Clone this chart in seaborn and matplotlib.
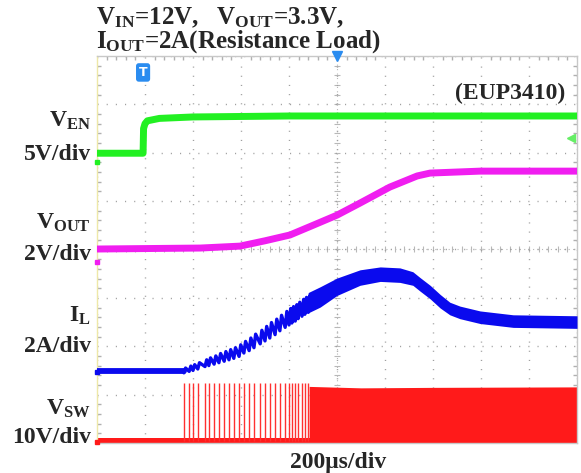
import numpy as np
import pandas as pd
import matplotlib
matplotlib.use("Agg")
import matplotlib.pyplot as plt
import seaborn as sns

# ---- data: x in time divisions (200 us/div), y in screen divisions ----
ven_t = [0.0, 0.96, 0.97, 1.00, 1.05, 1.30, 2.00, 4.00, 10.0]
ven_v = [5.99, 5.99, 6.50, 6.60, 6.66, 6.71, 6.74, 6.76, 6.76]

vout_t = [0.0, 2.15, 2.98, 3.50, 4.02, 4.50, 5.00, 5.48, 6.10, 6.67, 6.94, 7.98, 10.0]
vout_v = [4.01, 4.03, 4.07, 4.18, 4.30, 4.50, 4.71, 4.96, 5.29, 5.52, 5.58, 5.62, 5.62]

il_base_t = [0.0, 1.81]
il_base_v = [1.48, 1.48]

# switching pulse instants (also the IL ripple teeth)
sw_t = [1.81, 1.92, 2.00, 2.10, 2.25, 2.33, 2.44, 2.54, 2.65, 2.75, 2.85, 2.96,
        3.06, 3.17, 3.27, 3.40, 3.50, 3.60, 3.71, 3.81, 3.92, 4.00, 4.06, 4.13,
        4.19, 4.27, 4.33, 4.40]
il_valley = [1.45, 1.48, 1.50, 1.53, 1.58, 1.60, 1.63, 1.66, 1.69, 1.72, 1.75, 1.79,
             1.86, 1.91, 1.97, 2.05, 2.11, 2.17, 2.24, 2.32, 2.39, 2.44, 2.48, 2.52,
             2.57, 2.62, 2.66, 2.70]
il_peak = [1.55, 1.59, 1.62, 1.66, 1.72, 1.76, 1.80, 1.85, 1.89, 1.93, 1.97, 2.03,
           2.10, 2.17, 2.25, 2.33, 2.41, 2.49, 2.56, 2.64, 2.72, 2.78, 2.82, 2.86,
           2.91, 2.97, 3.01, 3.05]

il_band_t = [4.40, 4.65, 5.00, 5.48, 5.90, 6.31, 6.58, 6.73, 6.94, 7.15, 7.35, 7.56, 7.98, 8.67, 10.0]
il_band_c = [2.90, 3.02, 3.23, 3.42, 3.49, 3.47, 3.40, 3.28, 3.12, 2.93, 2.78, 2.70, 2.60, 2.52, 2.50]
il_band_hw = [0.21, 0.21, 0.18, 0.16, 0.15, 0.15, 0.14, 0.14, 0.14, 0.14, 0.13, 0.13, 0.13, 0.13, 0.13]

sw_base_t = [0.0, 10.0]
sw_base_v = [0.06, 0.06]
sw_pulse_top = 1.23
sw_dense_t = [4.42, 5.50, 7.00, 10.0]
sw_dense_top = [1.17, 1.14, 1.15, 1.16]

# ---- style ----
sns.set_theme(style="white")
plt.rcParams["font.family"] = ["Liberation Serif", "DejaVu Serif"]
plt.rcParams["font.weight"] = "bold"
plt.rcParams["mathtext.fontset"] = "custom"
plt.rcParams["mathtext.rm"] = "Liberation Serif:bold"
plt.rcParams["mathtext.bf"] = "Liberation Serif:bold"
plt.rcParams["mathtext.it"] = "Liberation Serif:bold"

W, H = 581, 473
fig = plt.figure(figsize=(W / 100, H / 100), dpi=100)
L, R, T, B = 97, 577, 56, 443
ax = fig.add_axes([L / W, 1 - B / H, (R - L) / W, (B - T) / H])
ax.set_xlim(0, 10)
ax.set_ylim(0, 8)

GREEN = "#22f022"
MAG = "#f01ef0"
BLUE = "#0a0aee"
RED = "#ff1a1a"

# grid
ax.set_xticks(range(11))
ax.set_yticks(range(9))
ax.set_xticklabels([])
ax.set_yticklabels([])
ax.grid(True, color="#a0a0a0", linewidth=1.0, linestyle=(0, (0.8, 5.8)))
ax.set_xticks(np.arange(0, 10.01, 0.2), minor=True)
ax.set_yticks(np.arange(0, 8.01, 0.2), minor=True)
ax.tick_params(which="both", direction="in", length=0)
ax.tick_params(which="minor", length=3, color="#b0b0b0", top=True, right=True, bottom=True, left=True)
for s in ax.spines.values():
    s.set_color("#c8c8c8")
    s.set_linewidth(1.0)
ax.spines["left"].set_color("#eee8a8")
# center crosshair with small ticks
ax.axhline(4, color="#b8b8b8", lw=0.8, ls=(0, (1, 3)), zorder=0.5)
ax.axvline(5, color="#b8b8b8", lw=0.8, ls=(0, (1, 3)), zorder=0.5)
ax.plot(np.arange(0, 10.01, 0.2), np.full(51, 4.0), ls="none", marker="|", ms=4, color="#b8b8b8", mew=0.8, zorder=0.5)
ax.plot(np.full(41, 5.0), np.arange(0, 8.01, 0.2), ls="none", marker="_", ms=4, color="#b8b8b8", mew=0.8, zorder=0.5)

# ---- VSW ----
ax.fill_between(sw_base_t, np.array(sw_base_v) - 0.05, np.array(sw_base_v) + 0.05, color=RED, lw=0, zorder=2)
ax.vlines(sw_t, 0.05, sw_pulse_top, color="#ff3030", lw=1.0, zorder=2)
ax.fill_between(sw_dense_t, 0.0, sw_dense_top, color=RED, lw=0, zorder=2)

# ---- IL ----
df_il0 = pd.DataFrame({"t": il_base_t, "v": il_base_v})
sns.lineplot(data=df_il0, x="t", y="v", color=BLUE, lw=4.2, estimator=None, sort=False, ax=ax, zorder=3)
saw_t, saw_v = [il_base_t[-1]], [il_base_v[-1]]
for t, lo, hi in zip(sw_t, il_valley, il_peak):
    saw_t += [t, t + 0.035]
    saw_v += [lo, hi]
saw_t.append(il_band_t[0])
saw_v.append(il_band_c[0])
df_saw = pd.DataFrame({"t": saw_t, "v": saw_v})
sns.lineplot(data=df_saw, x="t", y="v", color=BLUE, lw=2.4, estimator=None, sort=False, ax=ax, zorder=3)
c = np.array(il_band_c)
hw = np.array(il_band_hw)
ax.fill_between(il_band_t, c - hw, c + hw, color=BLUE, lw=0, zorder=3)

# ---- VOUT ----
df_vout = pd.DataFrame({"t": vout_t, "v": vout_v})
sns.lineplot(data=df_vout, x="t", y="v", color=MAG, lw=5.0, estimator=None, sort=False, ax=ax, zorder=4)

# ---- VEN ----
df_ven = pd.DataFrame({"t": ven_t, "v": ven_v})
sns.lineplot(data=df_ven, x="t", y="v", color=GREEN, lw=5.0, estimator=None, sort=False, ax=ax, zorder=5)
for ln in ax.lines:
    ln.set_solid_joinstyle("round")
ax.set_xlabel("")
ax.set_ylabel("")

# ---- scope markers ----
for yv, col in [(5.8, GREEN), (3.74, MAG), (1.47, BLUE), (0.02, RED)]:
    ax.plot([0], [yv], marker="s", ms=3, color=col, clip_on=False, zorder=6)
ax.plot([5.0], [8.0], marker="v", ms=7, color="#2a8cf0", clip_on=False, zorder=6)
ax.plot([9.87], [6.30], marker="<", ms=6, color="#66ee66", clip_on=False, zorder=6)
ax.text(0.96, 7.66, "T", ha="center", va="center", color="white", fontsize=9,
        fontfamily="DejaVu Sans", fontweight="bold",
        bbox=dict(boxstyle="round,pad=0.22", fc="#2a8cf0", ec="none"), zorder=7)

# ---- texts ----
def ftext(x, y, s, **kw):
    fig.text(x / W, 1 - y / H, s, fontsize=kw.pop("fontsize", 17), fontweight="bold", **kw)

ftext(96, 18, r"V$_{\rm IN}$=12V,   V$_{\rm OUT}$=3.3V,", ha="left", va="center", fontsize=18)
ftext(96, 42, r"I$_{\rm OUT}$=2A(Resistance Load)", ha="left", va="center", fontsize=18)
ftext(565, 93, "(EUP3410)", ha="right", va="center")
ftext(91, 121, r"V$_{\rm EN}$", ha="right", va="center")
ftext(91, 155, "5V/div", ha="right", va="center")
ftext(91, 223, r"V$_{\rm OUT}$", ha="right", va="center")
ftext(91, 255, "2V/div", ha="right", va="center")
ftext(91, 316, r"I$_{\rm L}$", ha="right", va="center")
ftext(91, 346, "2A/div", ha="right", va="center")
ftext(91, 409, r"V$_{\rm SW}$", ha="right", va="center")
ftext(91, 437, "10V/div", ha="right", va="center")
ftext(338, 462, "200\u03bcs/div", ha="center", va="center")

fig.savefig("out.png", dpi=100)
